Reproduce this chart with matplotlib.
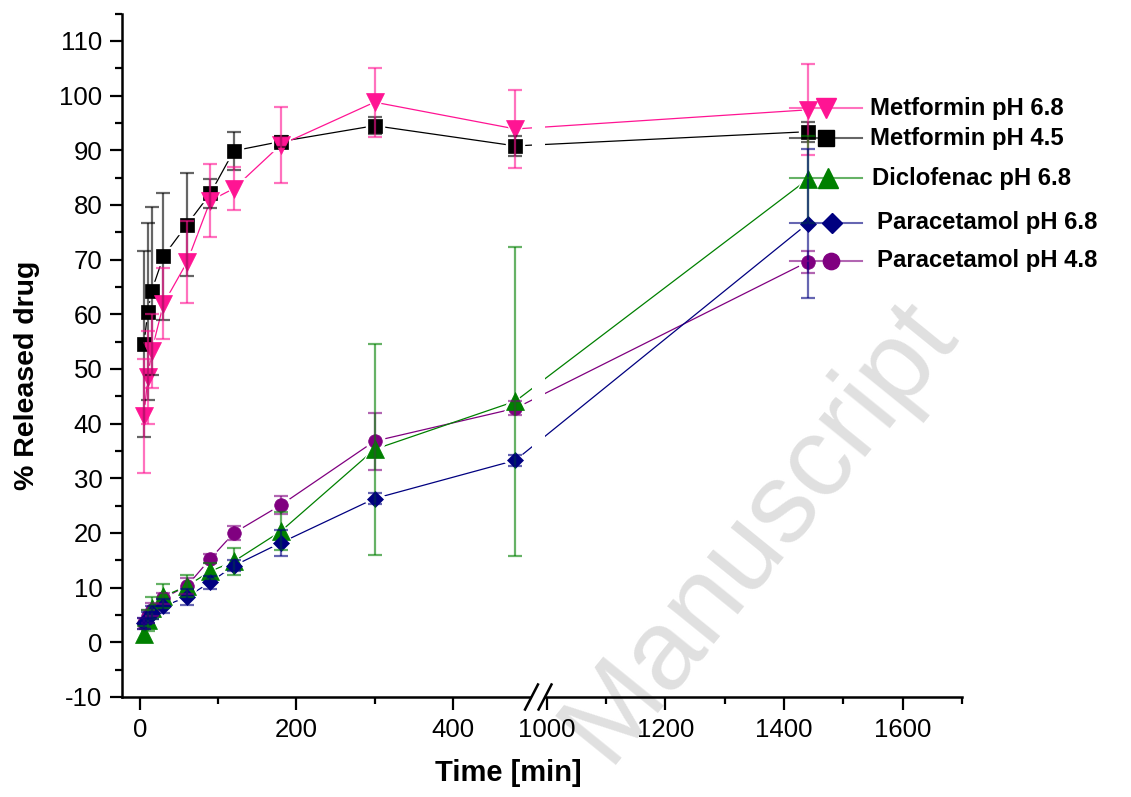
import numpy as np
import matplotlib
matplotlib.use("Agg")
import matplotlib.pyplot as plt
from matplotlib.lines import Line2D
from matplotlib.patches import Rectangle

plt.rcParams['font.family'] = ['Liberation Sans', 'DejaVu Sans']

# ---- data -------------------------------------------------------------
time_min = [5, 10, 15, 30, 60, 90, 120, 180, 300, 480, 1440]

metformin_68 = [41.4, 48.5, 53.3, 61.9, 69.5, 80.8, 83.0, 91.0, 98.8, 93.9, 97.4]
metformin_68_sd = [10.5, 8.5, 6.8, 6.5, 7.5, 6.7, 4.0, 7.0, 6.3, 7.1, 8.3]

metformin_45 = [54.5, 60.5, 64.3, 70.6, 76.4, 82.1, 89.9, 91.6, 94.5, 90.8, 93.4]
metformin_45_sd = [17.0, 16.2, 15.4, 11.6, 9.4, 2.6, 3.5, 1.0, 1.6, 1.8, 1.8]

diclofenac_68 = [1.5, 4.0, 6.3, 8.4, 10.3, 13.0, 14.8, 20.3, 35.3, 44.1, 84.7]
diclofenac_68_sd = [1.5, 2.0, 2.0, 2.2, 2.0, 1.5, 2.4, 3.5, 19.3, 28.3, 8.0]

paracetamol_68 = [3.5, 4.5, 5.4, 6.6, 8.3, 11.0, 14.0, 18.2, 26.3, 33.3, 76.6]
paracetamol_68_sd = [1.0, 1.0, 1.2, 1.3, 1.5, 1.2, 1.0, 2.4, 1.0, 1.0, 13.7]

paracetamol_48 = [3.5, 4.8, 6.0, 8.1, 10.3, 15.3, 20.0, 25.1, 36.8, 42.8, 69.6]
paracetamol_48_sd = [1.0, 1.2, 1.2, 1.0, 1.5, 0.8, 1.2, 1.6, 5.2, 1.3, 2.0]

series_labels = ["Metformin pH 6.8", "Metformin pH 4.5", "Diclofenac pH 6.8",
                 "Paracetamol pH 6.8", "Paracetamol pH 4.8"]

x_major = [0, 200, 400, 1000, 1200, 1400, 1600]
x_minor = [100, 300, 1100, 1300, 1500, 1700]
y_major = list(range(-10, 111, 10))
y_minor = list(range(-5, 116, 10))

# ---- broken time axis: piecewise linear scale ---------------------------
LEFT_SLOPE = 0.7833     # display units per minute before the break
RIGHT_SLOPE = 0.594     # display units per minute after the break
BREAK_START = 508.0
BREAK_END = 1000.0
RIGHT_OFFSET = 407.5


def fwd(x):
    x = np.asarray(x, dtype=float)
    ub = LEFT_SLOPE * BREAK_START
    mid = ub + (x - BREAK_START) * (RIGHT_OFFSET - ub) / (BREAK_END - BREAK_START)
    return np.where(x <= BREAK_START, LEFT_SLOPE * x,
                    np.where(x >= BREAK_END, RIGHT_OFFSET + RIGHT_SLOPE * (x - BREAK_END), mid))


def inv(u):
    u = np.asarray(u, dtype=float)
    ub = LEFT_SLOPE * BREAK_START
    mid = BREAK_START + (u - ub) * (BREAK_END - BREAK_START) / (RIGHT_OFFSET - ub)
    return np.where(u <= ub, u / LEFT_SLOPE,
                    np.where(u >= RIGHT_OFFSET, BREAK_END + (u - RIGHT_OFFSET) / RIGHT_SLOPE, mid))


# ---- figure -----------------------------------------------------------
W, H = 1131, 797
fig = plt.figure(figsize=(W / 100, H / 100), dpi=100)
ax = fig.add_axes([122 / W, 1 - 697 / H, 840 / W, 683.4 / H])
ax.patch.set_alpha(0)

ax.set_xscale('function', functions=(fwd, inv))
ax.set_xlim(-23, 1700)
ax.set_ylim(-10, 115)

series = [
    # values, sd, color, marker, size, zorder
    (metformin_45, metformin_45_sd, '#000000', 's', 9.4, 0),
    (metformin_68, metformin_68_sd, '#FF1493', 'v', 12.5, 1),
    (paracetamol_48, paracetamol_48_sd, '#800080', 'o', 9.8, 2),
    (diclofenac_68, diclofenac_68_sd, '#008000', '^', 12.5, 3),
    (paracetamol_68, paracetamol_68_sd, '#000080', 'D', 8.6, 4),
]

for vals, sd, col, mk, ms, k in series:
    ax.plot(time_min, vals, color=col, lw=0.9, zorder=2)
for vals, sd, col, mk, ms, k in series:
    ax.plot(time_min, vals, ls='none', marker=mk, ms=ms + 4, mfc='white',
            mec='white', zorder=3)
for vals, sd, col, mk, ms, k in series:
    ax.plot(time_min, vals, ls='none', marker=mk, ms=ms, mfc=col, mec=col,
            mew=0.5, zorder=4 + 0.1 * k)
for vals, sd, col, mk, ms, k in series:
    ax.errorbar(time_min, vals, yerr=sd, fmt='none', ecolor=col, alpha=0.6,
                elinewidth=1.6, capsize=5, capthick=1.6, zorder=5)

# ---- axes styling -------------------------------------------------------
for side in ('top', 'right'):
    ax.spines[side].set_visible(False)
for side in ('left', 'bottom'):
    ax.spines[side].set_linewidth(1.8)

ax.set_xticks(x_major)
ax.set_xticks(x_minor, minor=True)
ax.set_xticklabels([str(v) for v in x_major])
ax.set_yticks(y_major)
ax.set_yticks(y_minor, minor=True)
ax.set_yticklabels([str(v) for v in y_major])

ax.tick_params(axis='both', which='major', direction='out', length=9, width=1.6,
               labelsize=18.5, pad=5)
ax.tick_params(axis='both', which='minor', direction='out', length=5, width=1.6)
ax.tick_params(axis='x', which='major', pad=6)

ax.set_xlabel('Time [min]', fontsize=21, fontweight='bold')
ax.xaxis.set_label_coords(0.4595, -0.090)
ax.set_ylabel('% Released drug', fontsize=20.5, fontweight='bold')
ax.yaxis.set_label_coords(-0.098, 0.47)

# ---- axis break ---------------------------------------------------------
b0, b1 = 0.4875, 0.5036
ax.add_patch(Rectangle((b0, -0.006), b1 - b0, 1.01, transform=ax.transAxes,
                       facecolor='white', edgecolor='none', clip_on=False, zorder=6))
for bx in (b0, b1):
    ax.add_line(Line2D([bx - 0.0077, bx + 0.0077], [-0.0183, 0.0183],
                       transform=ax.transAxes, color='black', lw=1.8,
                       clip_on=False, zorder=7))

# ---- series key -----------------------------------------------------------
key_rows = [
    # label index, series index, y, marker x, text x
    (0, 1, 108, 826, 870),
    (1, 0, 138, 826, 870),
    (2, 3, 178, 828, 872),
    (3, 4, 223, 832, 877),
    (4, 2, 261, 831, 877),
]
for li, si, ypx, mx, tx in key_rows:
    vals, sd, col, mk, ms, k = series[si]
    yf = 1 - ypx / H
    fig.add_artist(Line2D([790 / W, 862 / W], [yf, yf], color=col, lw=1.5,
                          alpha=0.6, transform=fig.transFigure, zorder=8))
    fig.add_artist(Line2D([mx / W], [yf], ls='none', marker=mk, ms=ms * 1.2,
                          mfc=col, mec=col, transform=fig.transFigure, zorder=9))
    fig.text(tx / W, yf, series_labels[li], fontsize=17.2, fontweight='bold',
             ha='left', va='center', zorder=9)

# ---- watermark ---------------------------------------------------------
fig.text(760 / W, 1 - 530 / H, 'Manuscript', fontsize=82, color='#e0e0e0',
         rotation=51, rotation_mode='anchor', ha='center', va='center', zorder=-1)

fig.savefig('out.png', dpi=100)
